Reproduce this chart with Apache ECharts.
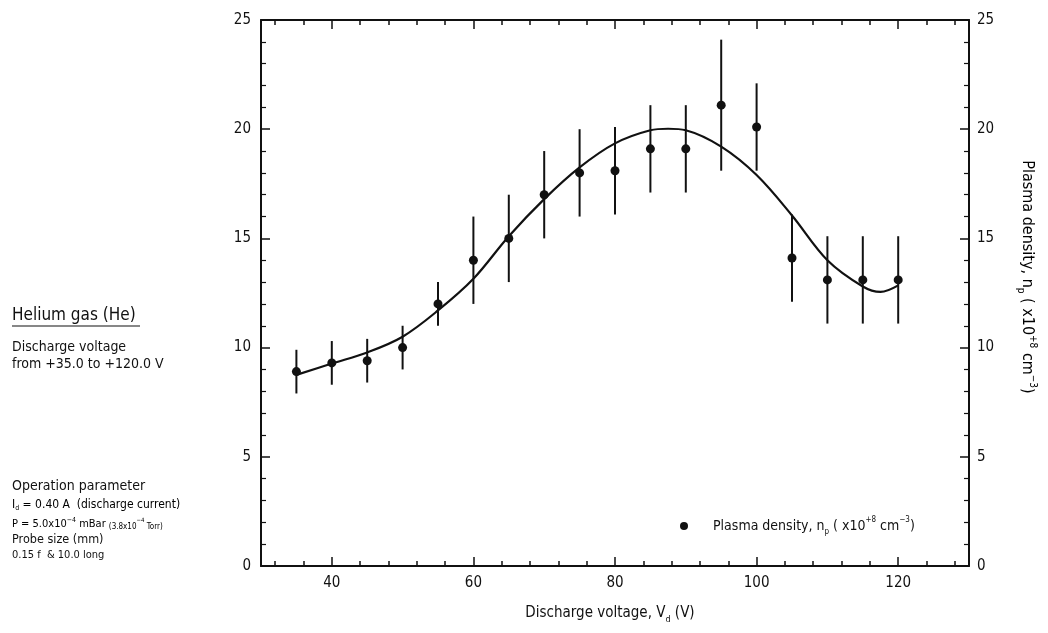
<!DOCTYPE html>
<html>
<head>
<meta charset="utf-8">
<title>Plasma density vs discharge voltage</title>
<script src="https://cdn.jsdelivr.net/npm/echarts@6/dist/echarts.min.js"></script>
<style>
  html, body { margin: 0; padding: 0; background: #fff; }
  #chart { width: 1048px; height: 633px; }
</style>
</head>
<body>
<div id="chart"></div>
<script>
// Measured plasma density (x10^8 cm^-3) against discharge voltage (V)
const voltage = [35, 40, 45, 50, 55, 60, 65, 70, 75, 80, 85, 90, 95, 100, 105, 110, 115, 120];
const density = [8.9, 9.3, 9.4, 10.0, 12.0, 14.0, 15.0, 17.0, 18.0, 18.1, 19.1, 19.1, 21.1, 20.1, 14.1, 13.1, 13.1, 13.1];
const densityErr = [1.0, 1.0, 1.0, 1.0, 1.0, 2.0, 2.0, 2.0, 2.0, 2.0, 2.0, 2.0, 3.0, 2.0, 2.0, 2.0, 2.0, 2.0];

// Fitted trend curve
const fitVoltage = [35, 40, 45, 50, 55, 60, 65, 70, 75, 80, 85, 87.5, 90, 95, 100, 105, 110, 115, 117.5, 120];
const fitDensity = [8.75, 9.27, 9.78, 10.5, 11.7, 13.15, 15.1, 16.8, 18.25, 19.35, 19.95, 20.02, 19.95, 19.2, 17.9, 16.05, 14.0, 12.8, 12.55, 12.85];

// Tick positions on the voltage axis
const xMajorTicks = [40, 60, 80, 100, 120];
const xMinorTicks = [32, 36, 44, 48, 52, 56, 64, 68, 72, 76, 84, 88, 92, 96, 104, 108, 112, 116, 124, 128];

const FONT = '"Liberation Sans Narrow", "DejaVu Sans Condensed", "Arial Narrow", sans-serif';
const INK = '#111';

const chart = echarts.init(document.getElementById('chart'), null, { renderer: 'canvas' });

const axisLineStyle = { show: true, lineStyle: { color: INK, width: 2 } };

function xAxisDef(position, ticks, len, withLine, withLabel) {
  const def = {
    type: 'value', min: 30, max: 130, position: position,
    axisLine: withLine ? axisLineStyle : { show: false },
    axisTick: { show: true, inside: true, length: len, customValues: ticks, lineStyle: { color: INK, width: 1.5 } },
    axisLabel: { show: false },
    splitLine: { show: false }
  };
  if (withLabel) {
    def.axisLabel = { show: true, customValues: xMajorTicks, margin: 10, color: INK, fontFamily: FONT, fontSize: 15 };
    def.name = '{t|Discharge voltage, V}{s|d}{t| (V)}';
    def.nameLocation = 'middle';
    def.nameGap = 36;
    def.nameTextStyle = {
      color: INK, fontFamily: FONT, fontSize: 15,
      padding: [0, 10, 0, 0],
      rich: {
        t: { fontFamily: FONT, fontSize: 15, color: INK, lineHeight: 22 },
        s: { fontFamily: FONT, fontSize: 9, color: INK, lineHeight: 12, verticalAlign: 'bottom' }
      }
    };
  }
  return def;
}

function yAxisDef(position) {
  return {
    type: 'value', min: 0, max: 25, interval: 5, position: position,
    axisLine: axisLineStyle,
    axisTick: { show: true, inside: true, length: 9, lineStyle: { color: INK, width: 1.5 } },
    minorTick: { show: true, splitNumber: 5, length: 5, lineStyle: { color: INK, width: 1.2 } },
    axisLabel: { margin: position === 'right' ? 8 : 10, color: INK, fontFamily: FONT, fontSize: 15 },
    splitLine: { show: false },
    minorSplitLine: { show: false }
  };
}

const titleRich = {
  t: { fontFamily: FONT, fontSize: 16, color: INK, lineHeight: 22 },
  sb: { fontFamily: FONT, fontSize: 10, color: INK, lineHeight: 12, verticalAlign: 'bottom' },
  sp: { fontFamily: FONT, fontSize: 10, color: INK, lineHeight: 12, verticalAlign: 'top' }
};

const option = {
  backgroundColor: '#fff',
  animation: false,
  grid: { left: 261, right: 79, top: 20, bottom: 67 },
  xAxis: [
    xAxisDef('bottom', xMajorTicks, 9, true, true),
    xAxisDef('bottom', xMinorTicks, 5, false, false),
    xAxisDef('top', xMajorTicks, 9, true, false),
    xAxisDef('top', xMinorTicks, 5, false, false)
  ],
  yAxis: [yAxisDef('left'), yAxisDef('right')],
  legend: {
    left: 675, top: 511,
    icon: 'circle', itemWidth: 8, itemHeight: 8,
    data: ['Plasma density'],
    formatter: function () {
      return '{t|Plasma density, n}{sb|p}{t| ( x10}{sp|+8}{t| cm}{sp|\u22123}{t|)}';
    },
    textStyle: {
      padding: [0, 0, 0, 20],
      rich: {
        t: { fontFamily: FONT, fontSize: 14, color: INK, lineHeight: 20 },
        sb: { fontFamily: FONT, fontSize: 8, color: INK, lineHeight: 10, verticalAlign: 'bottom' },
        sp: { fontFamily: FONT, fontSize: 8, color: INK, lineHeight: 10, verticalAlign: 'top' }
      }
    }
  },
  graphic: [
    {
      type: 'text', x: 1027, y: 277, rotation: -Math.PI / 2,
      style: {
        text: '{t|Plasma density, n}{sb|p}{t| ( x10}{sp|+8}{t| cm}{sp|\u22123}{t|)}',
        textAlign: 'center', textVerticalAlign: 'middle',
        rich: titleRich
      }
    },
    {
      type: 'text', x: 12, y: 316,
      style: { text: 'Helium gas (He)', font: '17px ' + FONT, fill: INK, textVerticalAlign: 'middle' }
    },
    {
      type: 'line', shape: { x1: 12, y1: 326, x2: 140, y2: 326 },
      style: { stroke: INK, lineWidth: 1.2 }
    },
    {
      type: 'text', x: 12, y: 347,
      style: { text: 'Discharge voltage', font: '14px ' + FONT, fill: INK, textVerticalAlign: 'middle' }
    },
    {
      type: 'text', x: 12, y: 364,
      style: { text: 'from +35.0 to +120.0 V', font: '14px ' + FONT, fill: INK, textVerticalAlign: 'middle' }
    },
    {
      type: 'text', x: 12, y: 486,
      style: { text: 'Operation parameter', font: '14px ' + FONT, fill: INK, textVerticalAlign: 'middle' }
    },
    {
      type: 'text', x: 12, y: 505,
      style: {
        text: '{t|I}{sb|d}{t| = 0.40 A  (discharge current)}',
        textVerticalAlign: 'middle',
        rich: {
          t: { fontFamily: FONT, fontSize: 12, color: INK, lineHeight: 14 },
          sb: { fontFamily: FONT, fontSize: 7, color: INK, lineHeight: 9, verticalAlign: 'bottom' }
        }
      }
    },
    {
      type: 'text', x: 12, y: 524,
      style: {
        text: '{t|P = 5.0x10}{sp|\u22124}{t| mBar }{m|(3.8x10}{msp|\u22124}{m| Torr)}',
        textVerticalAlign: 'middle',
        rich: {
          t: { fontFamily: FONT, fontSize: 11, color: INK, lineHeight: 14 },
          sp: { fontFamily: FONT, fontSize: 7, color: INK, lineHeight: 8, verticalAlign: 'top' },
          m: { fontFamily: FONT, fontSize: 8, color: INK, lineHeight: 12, verticalAlign: 'bottom' },
          msp: { fontFamily: FONT, fontSize: 6, color: INK, lineHeight: 8, verticalAlign: 'top' }
        }
      }
    },
    {
      type: 'text', x: 12, y: 540,
      style: { text: 'Probe size (mm)', font: '12.5px ' + FONT, fill: INK, textVerticalAlign: 'middle' }
    },
    {
      type: 'text', x: 12, y: 555,
      style: { text: '0.15 f  & 10.0 long', font: '11px ' + FONT, fill: INK, textVerticalAlign: 'middle' }
    }
  ],
  series: [
    {
      name: 'Fit',
      type: 'line',
      xAxisIndex: 0, yAxisIndex: 0,
      data: fitVoltage.map((v, i) => [v, fitDensity[i]]),
      smooth: 0.35,
      showSymbol: false,
      lineStyle: { color: INK, width: 2.2 },
      silent: true,
      z: 2
    },
    {
      name: 'Error',
      type: 'custom',
      xAxisIndex: 0, yAxisIndex: 0,
      data: voltage.map((v, i) => [v, density[i] - densityErr[i], density[i] + densityErr[i]]),
      encode: { x: 0, y: [1, 2] },
      renderItem: function (params, api) {
        const x = api.value(0);
        const lo = api.coord([x, api.value(1)]);
        const hi = api.coord([x, api.value(2)]);
        return {
          type: 'line',
          shape: { x1: lo[0], y1: lo[1], x2: hi[0], y2: hi[1] },
          style: { stroke: INK, lineWidth: 2 }
        };
      },
      z: 3
    },
    {
      name: 'Plasma density',
      type: 'scatter',
      xAxisIndex: 0, yAxisIndex: 0,
      data: voltage.map((v, i) => [v, density[i]]),
      symbol: 'circle',
      symbolSize: 9,
      itemStyle: { color: INK, opacity: 1 },
      z: 4
    }
  ]
};

chart.setOption(option);
</script>
</body>
</html>
